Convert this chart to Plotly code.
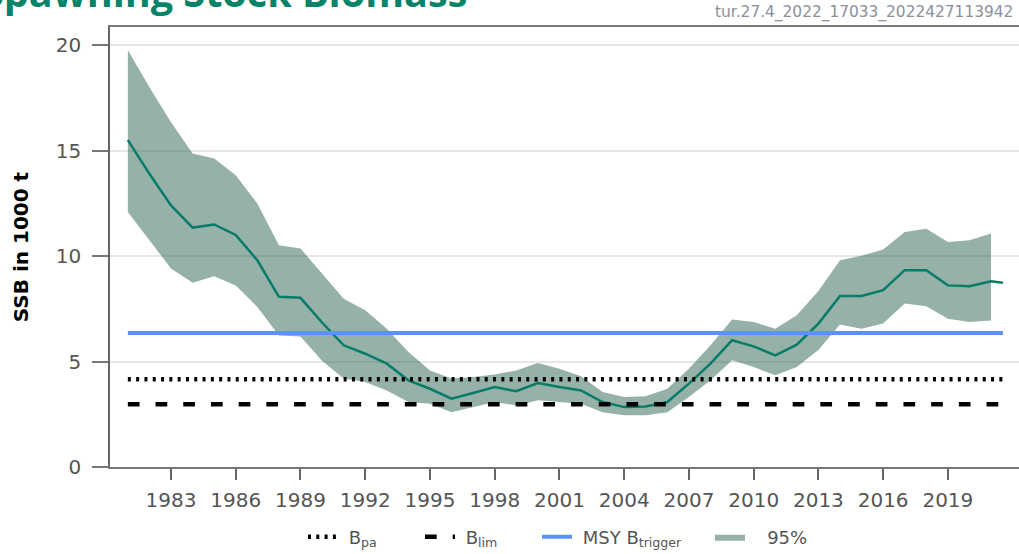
import plotly.graph_objects as go

# ---------------- data ----------------
years = list(range(1981, 2022))
ssb = [15.5, 13.9, 12.4, 11.35, 11.5, 11.0, 9.8, 8.07, 8.02, 6.85,
       5.77, 5.37, 4.9, 4.11, 3.71, 3.24, 3.51, 3.79, 3.59, 3.98,
       3.79, 3.63, 3.08, 2.84, 2.87, 3.08, 3.95, 4.9, 6.01, 5.72,
       5.29, 5.8, 6.8, 8.11, 8.11, 8.38, 9.33, 9.33, 8.61, 8.57,
       8.8]
ssb_final_year = 2021.55
ssb_final = 8.73
low = [12.09, 10.75, 9.41, 8.73, 9.04, 8.61, 7.59, 6.24, 6.19, 5.04,
       4.19, 4.03, 3.63, 3.08, 3.0, 2.6, 2.84, 3.08, 2.92, 3.16,
       3.08, 3.0, 2.6, 2.45, 2.45, 2.6, 3.32, 4.11, 5.06, 4.74,
       4.35, 4.74, 5.55, 6.76, 6.56, 6.8, 7.75, 7.62, 7.03, 6.87,
       6.95]
high = [19.76, 18.0, 16.35, 14.86, 14.62, 13.83, 12.49, 10.51, 10.36, 9.17,
        7.98, 7.43, 6.56, 5.45, 4.58, 4.19, 4.27, 4.39, 4.58, 4.93,
        4.66, 4.3, 3.55, 3.32, 3.35, 3.71, 4.66, 5.77, 6.99, 6.87,
        6.56, 7.19, 8.34, 9.8, 10.01, 10.31, 11.14, 11.3, 10.67, 10.75,
        11.07]
blim = 2.97
bpa = 4.16
msy_btrigger = 6.35
xtick_vals = list(range(1983, 2020, 3))
ytick_vals = [0, 5, 10, 15, 20]
title_text = "Spawning Stock Biomass"
stamp_text = "tur.27.4_2022_17033_2022427113942"
y_title = "SSB in 1000 t"
legend_names = ["B<sub>pa</sub>", "B<sub>lim</sub>", "MSY B<sub>trigger</sub>", "95%"]

# ---------------- figure ----------------
ssb_x = years + [ssb_final_year]
ssb_y = ssb + [ssb_final]
ref_x = [years[0], ssb_final_year]
NB = "\u00a0"

FONT = "DejaVu Sans"
TEXT_GREY = "#555555"
fig = go.Figure()

fig.add_trace(go.Scatter(x=years, y=low, mode="lines", line=dict(width=0),
                         showlegend=False, hoverinfo="skip"))
fig.add_trace(go.Scatter(x=years, y=high, mode="lines", line=dict(width=0),
                         fill="tonexty", fillcolor="rgba(45,100,80,0.5)",
                         name=NB + NB + NB + legend_names[3], legendrank=4))
fig.add_trace(go.Scatter(x=ssb_x, y=ssb_y, mode="lines",
                         line=dict(color="#077C68", width=2.5),
                         showlegend=False, name="SSB"))
fig.add_trace(go.Scatter(x=ref_x, y=[bpa, bpa], mode="lines",
                         line=dict(color="black", width=4.5, dash="3px,5.3px"),
                         name=NB + legend_names[0], legendrank=1, legendwidth=72))
fig.add_trace(go.Scatter(x=ref_x, y=[blim, blim], mode="lines",
                         line=dict(color="black", width=4.5, dash="11.7px,16px"),
                         name=NB + legend_names[1], legendrank=2, legendwidth=72))
fig.add_trace(go.Scatter(x=ref_x, y=[msy_btrigger, msy_btrigger], mode="lines",
                         line=dict(color="#5B93F5", width=4),
                         name=NB + legend_names[2], legendrank=3, legendwidth=128))

fig.update_layout(
    width=1019, height=554, autosize=False,
    margin=dict(l=110, r=0, t=27, b=87, pad=0, autoexpand=False),
    plot_bgcolor="white", paper_bgcolor="white",
    font=dict(family=FONT, color=TEXT_GREY, size=20),
    legend=dict(orientation="h", traceorder="normal",
                x=0.2123, xanchor="left",
                y=-0.159, yanchor="middle",
                font=dict(family=FONT, size=18, color=TEXT_GREY),
                bgcolor="rgba(0,0,0,0)"),
    xaxis=dict(range=[1980.173, 2022.296], tickvals=xtick_vals,
               showgrid=False, zeroline=False,
               showline=True, linecolor="#777777", linewidth=1.5, mirror=True,
               ticks="outside", ticklen=11, tickwidth=1.5, tickcolor="#666666",
               ticklabelstandoff=3,
               tickfont=dict(family=FONT, size=20, color=TEXT_GREY)),
    yaxis=dict(range=[0, 20.86], tickvals=ytick_vals,
               showgrid=True, gridcolor="#e6e6e6", gridwidth=1.5, zeroline=False,
               showline=True, linecolor="#666666", linewidth=1.5,
               ticks="outside", ticklen=16, tickwidth=1.5, tickcolor="#777777",
               ticklabelstandoff=7,
               tickfont=dict(family=FONT, size=20, color=TEXT_GREY),
               title=dict(text=y_title, standoff=22,
                          font=dict(family=FONT, size=20, color="black", weight=700))),
    showlegend=True,
)

fig.add_annotation(text=title_text, xref="paper", yref="paper",
                   x=-0.1428, y=1.0786, xanchor="left", yanchor="middle",
                   showarrow=False,
                   font=dict(family="Open Sans", size=39.6, color="#07836A", weight=700))
fig.add_annotation(text=stamp_text, xref="paper", yref="paper",
                   x=0.9956, y=1.034, xanchor="right", yanchor="middle",
                   showarrow=False,
                   font=dict(family=FONT, size=15.4, color="#8a9099"))
fig.add_shape(type="line", xref="paper", yref="paper", x0=-0.011, x1=0, y0=0, y1=0,
              line=dict(color="#777777", width=1.5))

fig.write_html("out.html", config={"displayModeBar": False},
               post_script="document.body.style.margin='0';document.body.style.overflow='hidden';")
